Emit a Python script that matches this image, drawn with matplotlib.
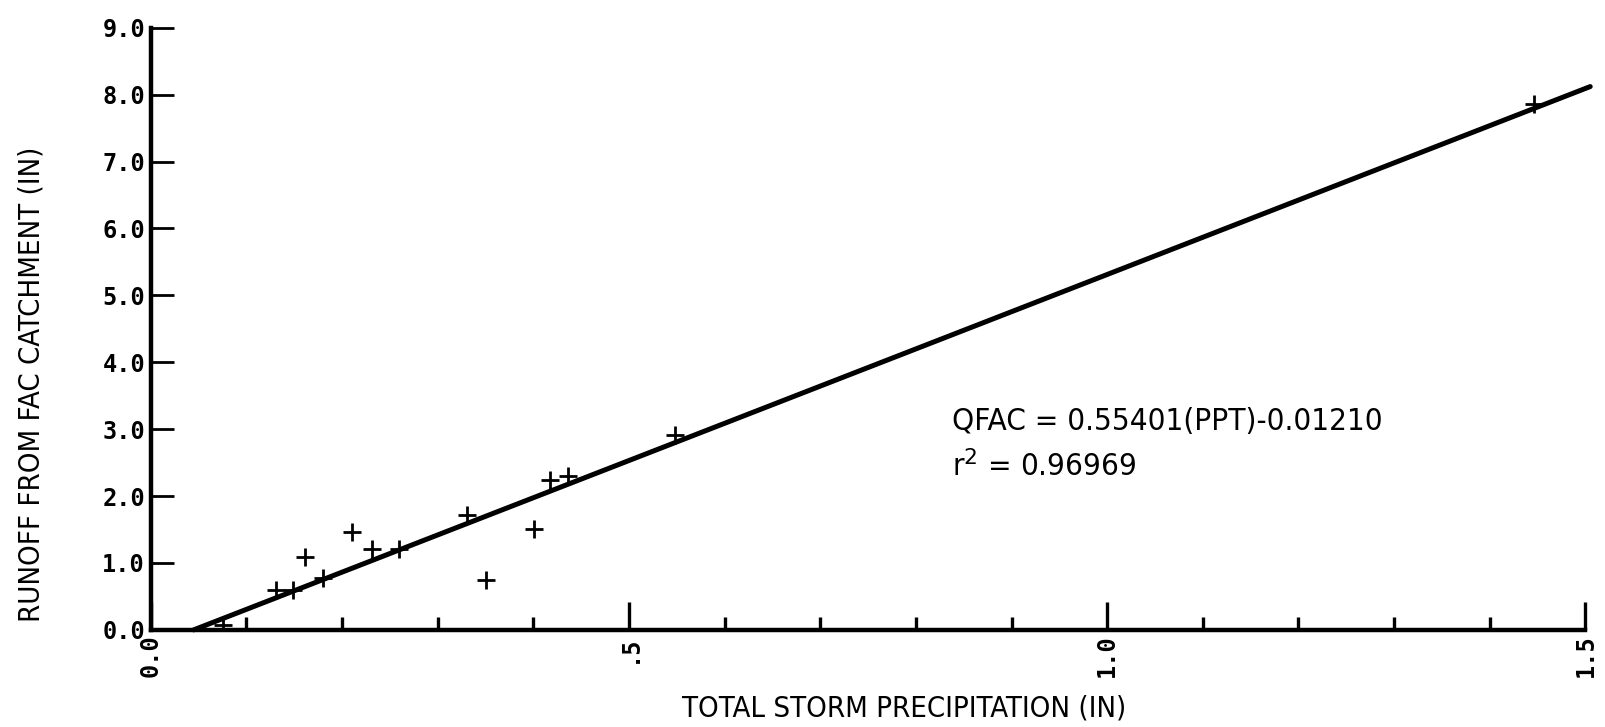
"""Runoff from FAC catchment vs total storm precipitation."""
import matplotlib
matplotlib.use("Agg")
import matplotlib.pyplot as plt
from matplotlib.ticker import MultipleLocator

precip = [0.076, 0.131, 0.149, 0.161, 0.180, 0.211, 0.231, 0.260,
          0.331, 0.351, 0.401, 0.417, 0.436, 0.548, 1.446]
runoff = [0.07, 0.59, 0.59, 1.09, 0.78, 1.46, 1.21, 1.21,
          1.71, 0.75, 1.51, 2.24, 2.30, 2.92, 7.86]

# Regression line end points
fit_x = [0.045, 1.505]
fit_y = [0.0, 8.12]

y_ticks = [0, 1, 2, 3, 4, 5, 6, 7, 8, 9]
y_labels = ["0.0", "1.0", "2.0", "3.0", "4.0", "5.0", "6.0", "7.0", "8.0", "9.0"]
x_ticks = [0.0, 0.5, 1.0, 1.5]
x_labels = ["0.0", ".5", "1.0", "1.5"]

label_font = ["DejaVu Sans"]
tick_font = ["DejaVu Sans Mono", "DejaVu Sans"]

fig = plt.figure(figsize=(16.06, 7.27), dpi=100)
ax = fig.add_axes([0.0938, 0.1336, 0.8934, 0.8283])

ax.plot(fit_x, fit_y, color="black", lw=3.6, solid_capstyle="round", clip_on=False)
ax.plot(precip, runoff, ls="none", marker="+", ms=13, mew=2.0, color="black", zorder=1)

ax.set_xlim(0, 1.5)
ax.set_ylim(0, 9)

for side in ("top", "right"):
    ax.spines[side].set_visible(False)
for side in ("left", "bottom"):
    ax.spines[side].set_linewidth(3.2)

ax.set_yticks(y_ticks)
ax.set_yticklabels(y_labels, family=tick_font, weight="heavy", fontsize=17)
ax.set_xticks(x_ticks)
ax.set_xticklabels(x_labels, family=tick_font, weight="heavy", fontsize=17, rotation=90)
ax.xaxis.set_minor_locator(MultipleLocator(0.1))

ax.tick_params(axis="y", direction="in", length=16.5, width=2.0, pad=4)
ax.tick_params(axis="x", which="major", direction="in", length=20, width=2.4, pad=3)
ax.tick_params(axis="x", which="minor", direction="in", length=9.5, width=2.4)

ax.set_xlabel("TOTAL STORM PRECIPITATION (IN)", family=label_font, stretch="condensed",
              fontsize=21)
ax.set_ylabel("RUNOFF FROM FAC CATCHMENT (IN)", family=label_font, stretch="condensed",
              fontsize=21)
ax.xaxis.set_label_coords(0.525, -0.108)
ax.yaxis.set_label_coords(-0.073, 0.408)

ax.text(0.838, 3.12, "QFAC = 0.55401(PPT)-0.01210", family=label_font, stretch="condensed",
        fontsize=22.5, va="center", ha="left")
ax.text(0.838, 2.45, "r$^2$ = 0.96969", family=label_font, stretch="condensed",
        fontsize=22.5, va="center", ha="left")

fig.savefig("out.png", dpi=100)
